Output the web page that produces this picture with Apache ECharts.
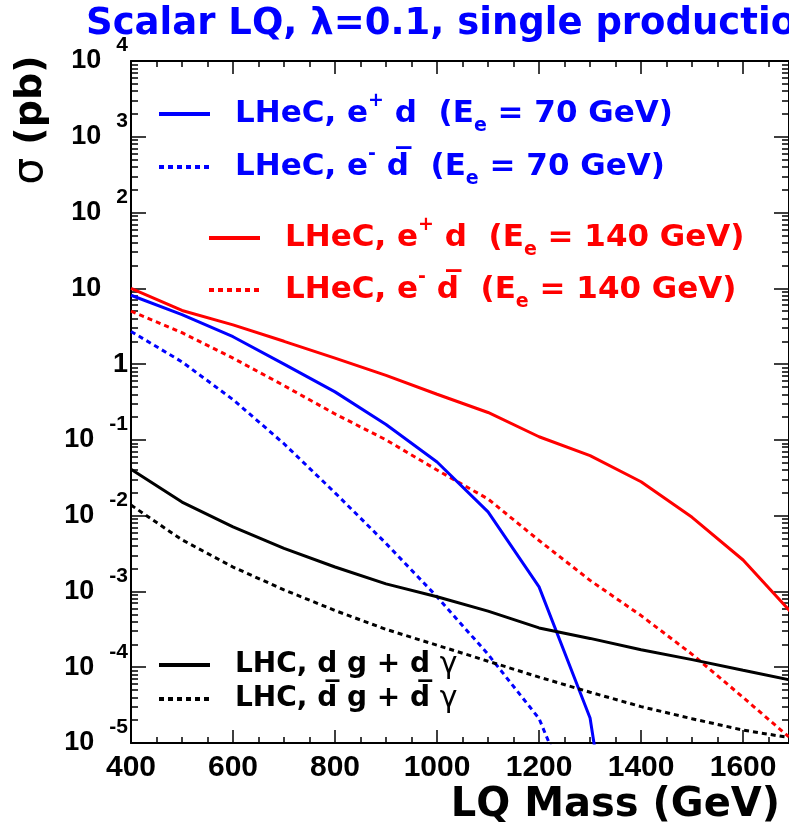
<!DOCTYPE html>
<html>
<head>
<meta charset="utf-8">
<script src="https://cdn.jsdelivr.net/npm/echarts@6/dist/echarts.min.js"></script>
<style>
  html, body { margin: 0; padding: 0; background: #fff; }
  #chart { width: 789px; height: 832px; }
</style>
</head>
<body>
<div id="chart"></div>
<script>
// LQ mass points (GeV)
const masses = [400, 500, 600, 700, 800, 900, 1000, 1100, 1200, 1300, 1400, 1500, 1600, 1700];

// cross sections sigma (pb)
const lhecEpD70 = [8.1, 4.5, 2.3, 1.0, 0.43, 0.16, 0.051, 0.0112, 0.00115, 0.0000214, 0.000000001];
const lhecEmDbar70 = [2.7, 1.07, 0.34, 0.089, 0.020, 0.0043, 0.00085, 0.000148, 0.000021, 0.0000005];
const lhecEpD140 = [10, 5.1, 3.3, 2.0, 1.2, 0.71, 0.40, 0.23, 0.11, 0.062, 0.028, 0.0095, 0.0026, 0.00048];
const lhecEmDbar140 = [5.0, 2.6, 1.2, 0.52, 0.22, 0.10, 0.040, 0.0166, 0.0047, 0.0014, 0.00048, 0.000148, 0.00004, 0.0000105];
const lhcDg = [0.041, 0.0151, 0.0071, 0.0037, 0.0021, 0.00126, 0.00085, 0.00055, 0.00033, 0.00024, 0.00017, 0.000126, 0.000091, 0.000066];
const lhcDbarG = [0.0138, 0.0048, 0.0021, 0.00105, 0.00056, 0.000316, 0.000195, 0.00012, 0.000074, 0.0000468, 0.0000302, 0.0000209, 0.0000148, 0.0000115];

// axis ticks
const xMajorTicks = [400, 600, 800, 1000, 1200, 1400, 1600];
const xMinorTicks = [450, 500, 550, 650, 700, 750, 850, 900, 950, 1050, 1100, 1150,
  1250, 1300, 1350, 1450, 1500, 1550, 1650];
const yDecades = [1e-5, 1e-4, 1e-3, 1e-2, 1e-1, 1, 10, 100, 1000, 10000];

// minor ticks 2..9 inside every decade
const yMinorTicks = [];
yDecades.slice(0, -1).forEach(d => {
  for (let m = 2; m <= 9; m++) yMinorTicks.push(m * d);
});

// series names
const nEpD70 = 'LHeC, e+ d (Ee = 70 GeV)';
const nEmDbar70 = 'LHeC, e- dbar (Ee = 70 GeV)';
const nEpD140 = 'LHeC, e+ d (Ee = 140 GeV)';
const nEmDbar140 = 'LHeC, e- dbar (Ee = 140 GeV)';
const nLhcDg = 'LHC, d g + d gamma';
const nLhcDbarG = 'LHC, dbar g + dbar gamma';

const OVER = '\u0305';
const legendText = {
  [nEpD70]: '{t|LHeC, e}{p|+}{t| d  (E}{s|e}{t| = 70 GeV)}',
  [nEmDbar70]: '{t|LHeC, e}{p|-}{t| d' + OVER + '  (E}{s|e}{t| = 70 GeV)}',
  [nEpD140]: '{t|LHeC, e}{p|+}{t| d  (E}{s|e}{t| = 140 GeV)}',
  [nEmDbar140]: '{t|LHeC, e}{p|-}{t| d' + OVER + '  (E}{s|e}{t| = 140 GeV)}',
  [nLhcDg]: '{t|LHC, d g + d }{g|γ}',
  [nLhcDbarG]: '{t|LHC, d' + OVER + ' g + d' + OVER + ' }{g|γ}',
};

const BLUE = '#0000ff';
const RED = '#ff0000';
const BLACK = '#000000';

const richFor = (color, fs, lh) => ({
  t: { color, fontFamily: 'DejaVu Sans', fontWeight: 'bold', fontSize: fs, lineHeight: lh },
  p: { color, fontFamily: 'DejaVu Sans', fontWeight: 'bold', fontSize: Math.round(fs * 0.62), lineHeight: 20, verticalAlign: 'top' },
  s: { color, fontFamily: 'DejaVu Sans', fontWeight: 'bold', fontSize: Math.round(fs * 0.62), lineHeight: 20, verticalAlign: 'bottom' },
  g: { color, fontFamily: 'DejaVu Sans', fontWeight: 'normal', fontSize: fs + 2, lineHeight: lh },
});

const makeLegend = (names, color, fs, lh, left, top, gap) => ({
  data: names,
  orient: 'vertical',
  left, top,
  padding: 0,
  itemWidth: 51,
  itemHeight: 14,
  itemGap: gap,
  selectedMode: false,
  lineStyle: { width: 4 },
  itemStyle: { opacity: 0 },
  formatter: name => legendText[name],
  textStyle: {
    color, fontFamily: 'DejaVu Sans', fontWeight: 'bold', fontSize: fs,
    padding: [0, 0, 0, 20],
    rich: richFor(color, fs, lh),
  },
});

const curve = (name, vals, color, dashed) => ({
  name,
  type: 'line',
  xAxisIndex: 0,
  yAxisIndex: 0,
  data: vals.map((v, i) => [masses[i], v]),
  symbol: 'none',
  clip: true,
  silent: true,
  lineStyle: { color, width: 3, type: dashed ? [5, 4] : 'solid', cap: 'butt' },
  itemStyle: { color },
});

// y tick labels like ROOT: 10 with raised exponent
const yLabel = v => {
  const e = Math.round(Math.log10(v));
  if (e === 0) return '{b|1}';
  if (e === 1) return '{b|10}{h|0}';
  return '{b|10}{e|' + e + '}';
};

const X_MIN = 400, X_MAX = 1690;
const Y_MIN = 1e-5, Y_MAX = 1e4;

const xAxisBase = {
  type: 'value', gridIndex: 0, min: X_MIN, max: X_MAX, interval: 200,
  splitLine: { show: false },
};
const yAxisBase = {
  type: 'log', logBase: 10, gridIndex: 0, min: Y_MIN, max: Y_MAX,
  splitLine: { show: false },
};
const frameLine = { show: true, lineStyle: { color: BLACK, width: 2 } };
const noLine = { show: false };
const tickStyle = { color: BLACK, width: 1.5 };

const chart = echarts.init(document.getElementById('chart'), null, { renderer: 'canvas' });

chart.setOption({
  animation: false,
  backgroundColor: '#fff',
  title: {
    text: 'Scalar LQ, λ=0.1, single production',
    left: 86,
    top: 6,
    padding: 0,
    textStyle: { color: BLUE, fontFamily: 'DejaVu Sans', fontWeight: 'bold', fontSize: 37 },
  },
  grid: { left: 131, top: 61, width: 658, height: 682, containLabel: false, outerBoundsMode: 'none' },
  legend: [
    makeLegend([nEpD70, nEmDbar70], BLUE, 31, 44, 157, 92, 9),
    makeLegend([nEpD140, nEmDbar140], RED, 31, 44, 207, 216, 8),
    makeLegend([nLhcDg, nLhcDbarG], BLACK, 28, 36, 157, 650, 4),
  ],
  xAxis: [
    {
      ...xAxisBase, position: 'bottom',
      axisLine: frameLine,
      axisTick: { show: true, inside: true, length: 13, lineStyle: tickStyle, customValues: xMajorTicks },
      axisLabel: {
        customValues: xMajorTicks, margin: 10, color: BLACK,
        formatter: v => String(v),
        fontFamily: 'Liberation Sans', fontWeight: 'bold', fontSize: 30,
      },
      name: 'LQ Mass (GeV)',
      nameLocation: 'end',
      nameGap: -9,
      nameMoveOverlap: false,
      nameTextStyle: {
        color: BLACK, fontFamily: 'DejaVu Sans', fontWeight: 'bold', fontSize: 40,
        align: 'right', verticalAlign: 'top', padding: [43, 0, 0, 0],
      },
    },
    {
      ...xAxisBase, position: 'bottom', axisLine: noLine, axisLabel: { show: false },
      axisTick: { show: true, inside: true, length: 6, lineStyle: tickStyle, customValues: xMinorTicks },
    },
    {
      ...xAxisBase, position: 'top', axisLine: frameLine, axisLabel: { show: false },
      axisTick: { show: true, inside: true, length: 13, lineStyle: tickStyle, customValues: xMajorTicks },
    },
    {
      ...xAxisBase, position: 'top', axisLine: noLine, axisLabel: { show: false },
      axisTick: { show: true, inside: true, length: 6, lineStyle: tickStyle, customValues: xMinorTicks },
    },
  ],
  yAxis: [
    {
      ...yAxisBase, position: 'left',
      axisLine: frameLine,
      axisTick: { show: true, inside: true, length: 15, lineStyle: tickStyle, customValues: yDecades },
      axisLabel: {
        customValues: yDecades, margin: 3, formatter: yLabel,
        rich: {
          b: { color: BLACK, fontFamily: 'Liberation Sans', fontWeight: 'bold', fontSize: 27, lineHeight: 52 },
          e: { color: BLACK, fontFamily: 'Liberation Sans', fontWeight: 'bold', fontSize: 21, lineHeight: 22, verticalAlign: 'top', padding: [0, 0, 0, 15] },
          h: { color: 'rgba(0,0,0,0)', fontFamily: 'Liberation Sans', fontWeight: 'bold', fontSize: 21, lineHeight: 22, verticalAlign: 'top', padding: [0, 0, 0, 15] },
        },
      },
    },
    {
      ...yAxisBase, position: 'left', axisLine: noLine, axisLabel: { show: false },
      axisTick: { show: true, inside: true, length: 7, lineStyle: tickStyle, customValues: yMinorTicks },
    },
    {
      ...yAxisBase, position: 'right', axisLine: frameLine, axisLabel: { show: false },
      axisTick: { show: true, inside: true, length: 15, lineStyle: tickStyle, customValues: yDecades },
    },
    {
      ...yAxisBase, position: 'right', axisLine: noLine, axisLabel: { show: false },
      axisTick: { show: true, inside: true, length: 7, lineStyle: tickStyle, customValues: yMinorTicks },
    },
  ],
  graphic: [
    {
      type: 'text',
      x: 31,
      y: 120,
      rotation: Math.PI / 2,
      silent: true,
      style: {
        text: '{s|σ} {t|(pb)}',
        align: 'center',
        verticalAlign: 'middle',
        rich: {
          s: { fill: BLACK, fontFamily: 'DejaVu Sans', fontWeight: 'normal', fontSize: 42 },
          t: { fill: BLACK, fontFamily: 'DejaVu Sans', fontWeight: 'bold', fontSize: 38 },
        },
        font: 'bold 38px "DejaVu Sans"',
        fill: BLACK,
      },
    },
  ],
  series: [
    curve(nEpD140, lhecEpD140, RED, false),
    curve(nEmDbar140, lhecEmDbar140, RED, true),
    curve(nEpD70, lhecEpD70, BLUE, false),
    curve(nEmDbar70, lhecEmDbar70, BLUE, true),
    curve(nLhcDg, lhcDg, BLACK, false),
    curve(nLhcDbarG, lhcDbarG, BLACK, true),
  ],
});
</script>
</body>
</html>
